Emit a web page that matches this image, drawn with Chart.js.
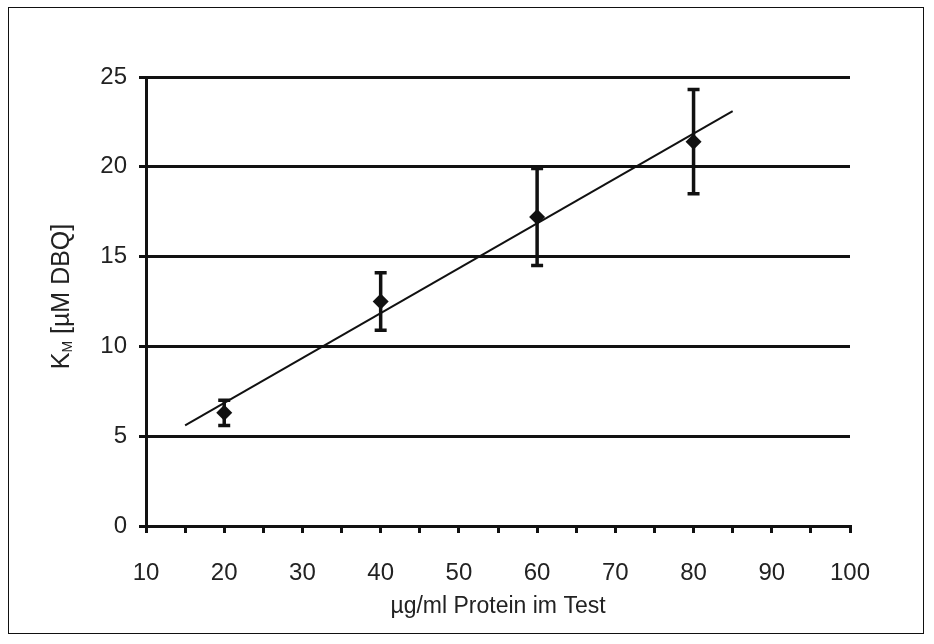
<!DOCTYPE html>
<html>
<head>
<meta charset="utf-8">
<script src="https://cdn.jsdelivr.net/npm/chart.js@4/dist/chart.umd.min.js"></script>
<style>
  body { margin: 0; background: #fff; }
  #wrap { position: relative; width: 934px; height: 644px; }
  #frame { position: absolute; left: 8px; top: 7px; width: 916px; height: 627px; border: 1.5px solid #111; box-sizing: border-box; pointer-events: none; }
</style>
</head>
<body>
<div id="wrap">
  <canvas id="chart" width="934" height="644"></canvas>
  <div id="frame"></div>
</div>
<script>
const protein = [20, 40, 60, 80]
const km = [6.3, 12.5, 17.2, 21.4]
const kmLow = [5.6, 10.9, 14.5, 18.5]
const kmHigh = [7.0, 14.1, 19.9, 24.3]
// regression line end points
const fitX = [15, 85]
const fitY = [5.6, 23.1]

const xTitle = 'µg/ml Protein im Test'
const font = 'Liberation Sans, Arial, sans-serif'

const errorBars = {
    id: 'errorBars',
    afterDatasetsDraw: chart => {
        const ctx = chart.ctx
        const xs = chart.scales.x
        const ys = chart.scales.y
        ctx.save()
        ctx.strokeStyle = '#111'
        ctx.lineWidth = 3.5
        protein.forEach((p, i) => {
            const px = xs.getPixelForValue(p)
            const top = ys.getPixelForValue(kmHigh[i])
            const bot = ys.getPixelForValue(kmLow[i])
            ctx.beginPath()
            ctx.moveTo(px, top)
            ctx.lineTo(px, bot)
            ctx.moveTo(px - 6, top)
            ctx.lineTo(px + 6, top)
            ctx.moveTo(px - 6, bot)
            ctx.lineTo(px + 6, bot)
            ctx.stroke()
        })
        ctx.restore()
    }
}

// axis titles, the y one needs a subscript
const axisTitles = {
    id: 'axisTitles',
    afterDraw: chart => {
        const ctx = chart.ctx
        const area = chart.chartArea
        ctx.save()
        ctx.fillStyle = '#222'
        ctx.textBaseline = 'middle'
        ctx.textAlign = 'center'
        ctx.font = `23px ${font}`
        ctx.fillText(xTitle, (area.left + area.right) / 2, 607)

        ctx.translate(62, (area.top + area.bottom) / 2 - 5)
        ctx.rotate(-Math.PI / 2)
        const k = 'K'
        const rest = ' [µM DBQ]'
        ctx.font = `14px ${font}`
        const wSub = ctx.measureText('M').width
        ctx.font = `25px ${font}`
        const wK = ctx.measureText(k).width
        const wRest = ctx.measureText(rest).width
        let x = -(wK + wSub + wRest) / 2
        ctx.textAlign = 'left'
        ctx.fillText(k, x, 0)
        x += wK
        ctx.font = `14px ${font}`
        ctx.fillText('M', x, 6)
        x += wSub
        ctx.font = `25px ${font}`
        ctx.fillText(rest, x, 0)
        ctx.restore()
    }
}

const chart = new Chart(document.getElementById('chart'), {
    type: 'scatter',
    data: {
        datasets: [{
            label: 'KM',
            data: protein.map((p, i) => ({ x: p, y: km[i] })),
            pointStyle: 'rectRot',
            pointRadius: 8,
            backgroundColor: '#111',
            borderColor: '#111',
            borderWidth: 0
        }, {
            type: 'line',
            label: 'fit',
            data: fitX.map((x, i) => ({ x: x, y: fitY[i] })),
            borderColor: '#111',
            borderWidth: 2,
            pointRadius: 0
        }]
    },
    options: {
        responsive: false,
        animation: false,
        layout: { padding: { left: 10, top: 77, right: 84, bottom: 10 } },
        plugins: { legend: { display: false }, tooltip: { enabled: false } },
        scales: {
            x: {
                type: 'linear',
                min: 10,
                max: 100,
                afterFit: s => { s.height = 108 },
                grid: { drawOnChartArea: false, drawTicks: true, tickLength: 7, lineWidth: 3, color: '#111' },
                border: { color: '#111', width: 3 },
                ticks: {
                    stepSize: 5,
                    autoSkip: false,
                    maxRotation: 0,
                    padding: 26,
                    color: '#222',
                    font: { family: font, size: 24 },
                    callback: v => v % 10 === 0 ? String(v) : ''
                }
            },
            y: {
                min: 0,
                max: 25,
                afterFit: s => { s.width = 136 },
                grid: { lineWidth: 3, color: '#111', tickLength: 7 },
                border: { color: '#111', width: 3 },
                ticks: {
                    stepSize: 5,
                    padding: 12,
                    color: '#222',
                    font: { family: font, size: 24 }
                }
            }
        }
    },
    plugins: [errorBars, axisTitles]
})
</script>
</body>
</html>
